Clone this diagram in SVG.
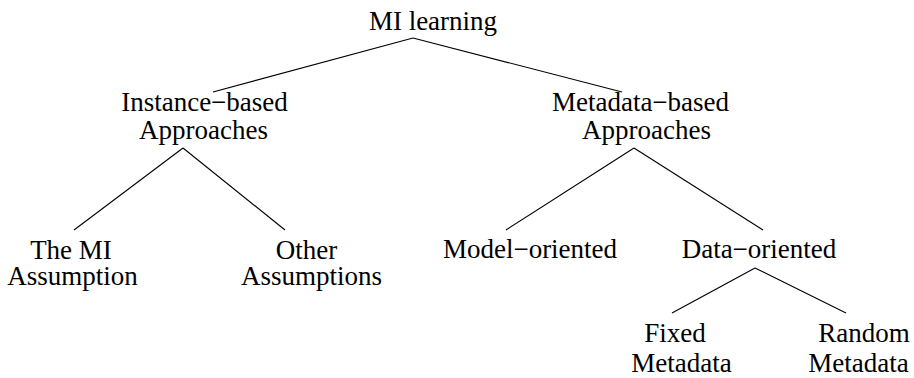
<svg xmlns="http://www.w3.org/2000/svg" width="914" height="378" viewBox="0 0 914 378">
<style>
text{font-family:"Liberation Serif","Times New Roman",serif;font-size:27px;fill:#000;text-anchor:middle}
.c line{stroke:#000;stroke-width:1.1;fill:none}
</style>
<rect width="914" height="378" fill="#fff"/>
<g class="c" id="connectors">
<line x1="413" y1="38" x2="213" y2="92"/>
<line x1="413" y1="38" x2="622" y2="92"/>
<line x1="183" y1="148" x2="74" y2="230"/>
<line x1="183" y1="148" x2="285" y2="230"/>
<line x1="634" y1="148" x2="506" y2="230"/>
<line x1="634" y1="148" x2="763" y2="230"/>
<line x1="755" y1="268" x2="672" y2="313"/>
<line x1="755" y1="268" x2="846" y2="313"/>
</g>
<g id="root"><text x="433" y="30">MI learning</text></g>
<g id="instance"><text x="204.5" y="111">Instance−based</text><text x="203.5" y="139">Approaches</text></g>
<g id="metadata"><text x="640.5" y="111">Metadata−based</text><text x="646.5" y="139">Approaches</text></g>
<g id="mi-assumption"><text x="71" y="259">The MI</text><text x="72.5" y="285">Assumption</text></g>
<g id="other"><text x="306.5" y="259">Other</text><text x="311.5" y="285">Assumptions</text></g>
<g id="model"><text x="530" y="258">Model−oriented</text></g>
<g id="data"><text x="759" y="258">Data−oriented</text></g>
<g id="fixed"><text x="675" y="342">Fixed</text><text x="681.5" y="372">Metadata</text></g>
<g id="random"><text x="864" y="342">Random</text><text x="858.5" y="372">Metadata</text></g>
</svg>
